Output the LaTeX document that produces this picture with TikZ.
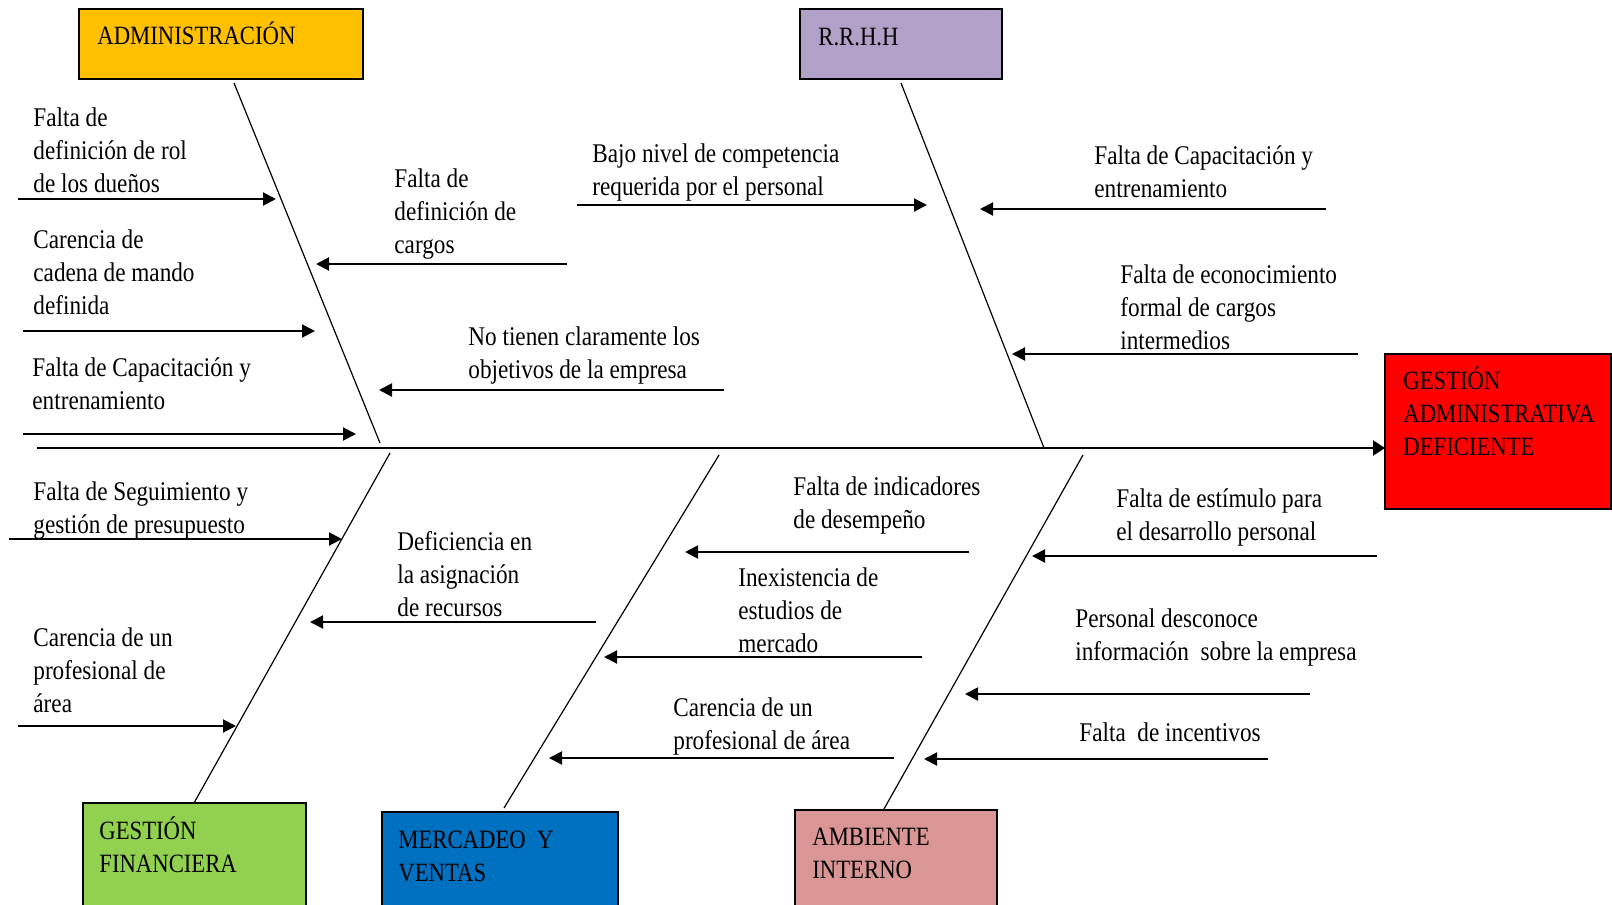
\documentclass[tikz,border=0pt]{standalone}
\usepackage{fontspec}
\setmainfont{Liberation Serif}[FakeStretch=0.86]
\usetikzlibrary{arrows.meta,fit}

\definecolor{admincol}{HTML}{FFC000}
\definecolor{rrhhcol}{HTML}{B1A0C7}
\definecolor{effectcol}{HTML}{FF0000}
\definecolor{financecol}{HTML}{92D050}
\definecolor{salescol}{HTML}{0070C0}
\definecolor{internalcol}{HTML}{DA9694}

% strut that fixes the top of the first line
\newcommand{\firststrut}{\rule{0pt}{13pt}}

\tikzset{
  catbox/.style={draw, line width=1pt, inner sep=0pt},
  spine/.style={line width=0.6pt},
  rib/.style={line width=1pt, -{Triangle[length=6.5pt,width=6.5pt]}},
  cause/.style={anchor=north west, inner sep=0pt, align=left,
    font=\fontsize{13.5pt}{16.5pt}\selectfont},
  boxlabel/.style={cause, font=\fontsize{13.2pt}{16.5pt}\selectfont}
}

\begin{document}
\begin{tikzpicture}[x=0.5pt,y=-0.5pt]
  \clip (0,0) rectangle (1612,905);

  % category boxes and the effect
  \node[catbox, fill=admincol, fit={(79,9) (363,79)}] (admin) {};
  \node[catbox, fill=rrhhcol, fit={(800,9) (1002,79)}] (rrhh) {};
  \node[catbox, fill=effectcol, fit={(1385,354) (1611,509)}] (effect) {};
  \node[catbox, fill=financecol, fit={(83,803) (306,915)}] (finance) {};
  \node[catbox, fill=salescol, fit={(382,812) (618,915)}] (sales) {};
  \node[catbox, fill=internalcol, fit={(795,810) (997,915)}] (internal) {};

  \node[boxlabel] (admin label) at (97,18) {\firststrut ADMINISTRACIÓN};
  \node[boxlabel] (rrhh label) at (818,19) {\firststrut R.R.H.H};
  \node[boxlabel] (effect label) at (1403,363) {\firststrut GESTIÓN\\ADMINISTRATIVA\\DEFICIENTE};
  \node[boxlabel] (finance label) at (99,813) {\firststrut GESTIÓN\\FINANCIERA};
  \node[boxlabel] (sales label) at (398,822) {\firststrut MERCADEO\ \ Y\\VENTAS};
  \node[boxlabel] (internal label) at (812,819) {\firststrut AMBIENTE\\INTERNO};

  % main line
  \coordinate (tail) at (37,448);
  \coordinate (effect in) at (1385,448);
  \draw[line width=1.25pt, -{Triangle[length=6pt,width=7.5pt]}] (tail) -- (effect in);

  % branches
  \coordinate (admin top) at (234,83);     \coordinate (admin foot) at (380,443);
  \coordinate (rrhh top) at (901,83);      \coordinate (rrhh foot) at (1044,448);
  \coordinate (finance top) at (390,453);  \coordinate (finance foot) at (194,803);
  \coordinate (sales top) at (719,455);    \coordinate (sales foot) at (504,808);
  \coordinate (internal top) at (1083,455);\coordinate (internal foot) at (884,809);
  \draw[spine] (admin top) -- (admin foot);
  \draw[spine] (rrhh top) -- (rrhh foot);
  \draw[spine] (finance top) -- (finance foot);
  \draw[spine] (sales top) -- (sales foot);
  \draw[spine] (internal top) -- (internal foot);

  % ADMINISTRACION causes
  \coordinate (a1s) at (18,199);  \coordinate (a1e) at (276,199);
  \coordinate (a2s) at (23,331);  \coordinate (a2e) at (315,331);
  \coordinate (a3s) at (23,434);  \coordinate (a3e) at (356,434);
  \coordinate (a4s) at (567,264); \coordinate (a4e) at (316,264);
  \coordinate (a5s) at (724,390); \coordinate (a5e) at (379,390);
  \draw[rib] (a1s) -- (a1e);
  \draw[rib] (a2s) -- (a2e);
  \draw[rib] (a3s) -- (a3e);
  \draw[rib] (a4s) -- (a4e);
  \draw[rib] (a5s) -- (a5e);
  \node[cause] (a1) at (33,100) {\firststrut Falta de\\definición de rol\\de los dueños};
  \node[cause] (a2) at (33,222) {\firststrut Carencia de\\cadena de mando\\definida};
  \node[cause] (a3) at (32,350) {\firststrut Falta de Capacitación y\\entrenamiento};
  \node[cause] (a4) at (394,161) {\firststrut Falta de\\definición de\\cargos};
  \node[cause] (a5) at (468,319) {\firststrut No tienen claramente los\\objetivos de la empresa};

  % R.R.H.H causes
  \coordinate (r1s) at (577,205);  \coordinate (r1e) at (927,205);
  \coordinate (r2s) at (1326,209); \coordinate (r2e) at (980,209);
  \coordinate (r3s) at (1358,354); \coordinate (r3e) at (1012,354);
  \draw[rib] (r1s) -- (r1e);
  \draw[rib] (r2s) -- (r2e);
  \draw[rib] (r3s) -- (r3e);
  \node[cause] (r1) at (592,136) {\firststrut Bajo nivel de competencia\\requerida por el personal};
  \node[cause] (r2) at (1094,138) {\firststrut Falta de Capacitación y\\entrenamiento};
  \node[cause] (r3) at (1120,257) {\firststrut Falta de econocimiento\\formal de cargos\\intermedios};

  % GESTION FINANCIERA causes
  \coordinate (f1s) at (9,539);   \coordinate (f1e) at (342,539);
  \coordinate (f2s) at (18,726);  \coordinate (f2e) at (236,726);
  \coordinate (f3s) at (596,622); \coordinate (f3e) at (310,622);
  \draw[rib] (f1s) -- (f1e);
  \draw[rib] (f2s) -- (f2e);
  \draw[rib] (f3s) -- (f3e);
  \node[cause] (f1) at (33,474) {\firststrut Falta de Seguimiento y\\gestión de presupuesto};
  \node[cause] (f2) at (33,620) {\firststrut Carencia de un\\profesional de\\área};
  \node[cause] (f3) at (397,524) {\firststrut Deficiencia en\\la asignación\\de recursos};

  % MERCADEO Y VENTAS causes
  \coordinate (m1s) at (969,552); \coordinate (m1e) at (685,552);
  \coordinate (m2s) at (922,657); \coordinate (m2e) at (604,657);
  \coordinate (m3s) at (894,758); \coordinate (m3e) at (549,758);
  \draw[rib] (m1s) -- (m1e);
  \draw[rib] (m2s) -- (m2e);
  \draw[rib] (m3s) -- (m3e);
  \node[cause] (m1) at (793,469) {\firststrut Falta de indicadores\\de desempeño};
  \node[cause] (m2) at (738,560) {\firststrut Inexistencia de\\estudios de\\mercado};
  \node[cause] (m3) at (673,690) {\firststrut Carencia de un\\profesional de área};

  % AMBIENTE INTERNO causes
  \coordinate (i1s) at (1377,556); \coordinate (i1e) at (1032,556);
  \coordinate (i2s) at (1310,694); \coordinate (i2e) at (965,694);
  \coordinate (i3s) at (1268,759); \coordinate (i3e) at (924,759);
  \draw[rib] (i1s) -- (i1e);
  \draw[rib] (i2s) -- (i2e);
  \draw[rib] (i3s) -- (i3e);
  \node[cause] (i1) at (1116,481) {\firststrut Falta de estímulo para\\el desarrollo personal};
  \node[cause] (i2) at (1075,601) {\firststrut Personal desconoce\\información\ \ sobre la empresa};
  \node[cause] (i3) at (1079,715) {\firststrut Falta\ \ de incentivos};
\end{tikzpicture}
\end{document}
